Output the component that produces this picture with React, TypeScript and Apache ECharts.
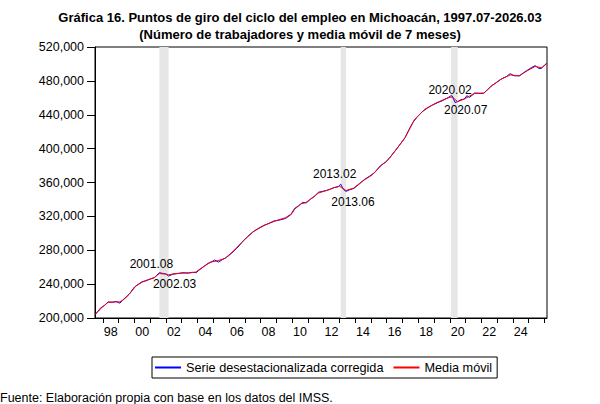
import React, { useEffect, useRef } from "react";
import * as echarts from "echarts";

// Monthly categories 1997-07 .. 2026-03
const startYear = 1997;
const startMonth = 7;
const endYear = 2026;
const endMonth = 3;
const months: string[] = [];
for (let y = startYear; y <= endYear; y++) {
  const m0 = y === startYear ? startMonth : 1;
  const m1 = y === endYear ? endMonth : 12;
  for (let m = m0; m <= m1; m++) months.push(`${y}-${String(m).padStart(2, "0")}`);
}

const yTicks = [200000, 240000, 280000, 320000, 360000, 400000, 440000, 480000, 520000];

// Serie desestacionalizada corregida
const serieDates = [
  "1997-07","1997-09","1997-11","1998-02","1998-05","1998-08","1998-11","1999-02","1999-04","1999-07",
  "1999-10","2000-01","2000-04","2000-07","2000-10","2001-01","2001-04","2001-06","2001-08","2001-11",
  "2002-01","2002-03","2002-06","2002-10","2003-02","2003-06","2003-09","2003-12","2004-03","2004-06",
  "2004-09","2004-12","2005-02","2005-05","2005-08","2005-11","2006-03","2006-07","2006-11","2007-03",
  "2007-07","2007-11","2008-03","2008-07","2008-11","2009-03","2009-08","2009-12","2010-03","2010-06",
  "2010-09","2010-12","2011-03","2011-06","2011-09","2011-12","2012-03","2012-06","2012-09","2012-12",
  "2013-02","2013-04","2013-06","2013-09","2013-12","2014-04","2014-08","2014-12","2015-04","2015-08",
  "2015-12","2016-03","2016-07","2016-11","2017-03","2017-06","2017-09","2017-12","2018-04","2018-08",
  "2018-12","2019-04","2019-08","2019-12","2020-02","2020-03","2020-05","2020-07","2020-09","2020-12",
  "2021-02","2021-04","2021-08","2021-12","2022-03","2022-06","2022-09","2022-12","2023-04","2023-08",
  "2023-11","2024-02","2024-06","2024-09","2024-12","2025-03","2025-06","2025-09","2025-11","2026-01",
  "2026-03"
];
const serieValues = [
  204000,207500,211500,214500,219000,218500,219500,217500,221000,225000,
  230000,236500,240000,243000,244000,246000,247500,250500,253500,252500,
  252000,249500,251500,252500,253500,253000,254000,253500,257500,261000,
  264500,266500,268500,266000,269000,271500,276500,282500,289500,296000,
  301500,305500,309000,311500,314500,315500,317500,322000,329500,332500,
  336500,336000,340500,343500,348500,349500,350500,352000,354000,355000,
  358000,352000,349500,351500,353000,358000,363500,367500,372000,379500,
  384000,388500,396500,404500,413000,422500,431000,437000,443500,448000,
  451500,454500,457000,460500,462500,462000,454500,455500,457500,458500,
  462500,460500,465500,465000,465500,470000,474500,477500,482000,485000,
  488500,486000,486000,489500,492500,495500,498000,494500,495000,498500,
  501000
];

// Media móvil
const mediaDates = [
  "1997-07","1997-10","1998-01","1998-05","1998-09","1999-02","1999-05","1999-09","2000-02","2000-06",
  "2000-10","2001-04","2001-08","2001-12","2002-03","2002-08","2003-02","2003-09","2003-12","2004-03",
  "2004-07","2004-11","2005-04","2005-10","2006-05","2006-12","2007-04","2007-08","2008-04","2008-12",
  "2009-08","2010-01","2010-03","2010-08","2010-11","2011-02","2011-09","2012-04","2012-09","2013-01",
  "2013-03","2013-06","2013-12","2014-06","2015-02","2015-09","2016-01","2016-07","2017-03","2017-07",
  "2017-10","2018-06","2019-02","2019-10","2020-02","2020-04","2020-07","2020-12","2021-04","2021-08",
  "2022-03","2022-08","2023-04","2023-11","2024-06","2024-12","2025-06","2025-11","2026-03"
];
const mediaValues = [
  204000,209000,213500,218500,219000,219000,222000,228000,237500,241500,
  244500,247500,252500,252000,251000,252500,253000,253500,254500,258000,
  262000,266000,267500,270500,280000,291500,297000,302500,309500,314500,
  318500,323500,328500,335000,336000,339000,347500,351000,354000,355500,
  354000,350500,353500,361000,369000,380500,385000,396500,413000,425000,
  434000,446500,453500,459000,461000,459500,455500,458500,462000,465500,
  465500,473000,482000,487000,486000,492000,497000,495500,500500
];

// Turning points and shaded recession bands
const turningDates = ["2001-08", "2002-03", "2013-02", "2013-06", "2020-02", "2020-07"];
const turningValues = [252500, 251000, 355500, 350500, 461000, 455500];
const turningLabels = ["2001.08", "2002.03", "2013.02", "2013.06", "2020.02", "2020.07"];
const turningOffsets = [[-8, -10], [6, 9], [-6, -12], [7, 11], [-1, -7], [8, 8]];
const bandStarts = ["2001-08", "2013-02", "2020-02"];
const bandEnds = ["2002-03", "2013-06", "2020-07"];

const FONT = "'Liberation Sans', Arial, sans-serif";

export default function App() {
  const ref = useRef<HTMLDivElement>(null);
  useEffect(() => {
    document.body.style.margin = "0";
    const chart = echarts.init(ref.current!, null, { renderer: "svg" });
    const option = {
      animation: false,
      backgroundColor: "#ffffff",
      textStyle: { fontFamily: FONT },
      title: {
        text: "Gráfica 16. Puntos de giro del ciclo del empleo en Michoacán, 1997.07-2026.03\n(Número de trabajadores y media móvil de 7 meses)",
        left: "center",
        top: 4,
        textStyle: { fontFamily: FONT, fontSize: 13, fontWeight: "bold", color: "#000", lineHeight: 17 },
      },
      grid: {
        left: 95,
        right: 53,
        top: 47,
        bottom: 86,
        show: true,
        borderColor: "#000",
        borderWidth: 1,
        backgroundColor: "transparent",
      },
      legend: {
        data: ["Serie desestacionalizada corregida", "Media móvil"],
        left: 152,
        top: 357,
        padding: [4, 5, 4, 3],
        itemGap: 10,
        itemWidth: 26,
        itemHeight: 2,
        icon: "rect",
        borderColor: "#000",
        borderWidth: 1,
        borderRadius: 0,
        textStyle: { fontFamily: FONT, fontSize: 12.7, color: "#000" },
      },
      xAxis: {
        type: "category",
        data: months,
        boundaryGap: false,
        axisLine: { lineStyle: { color: "#000", width: 1 } },
        axisTick: {
          show: true,
          length: 5,
          lineStyle: { color: "#000" },
          interval: (i: number, v: string) => v.endsWith("-01"),
        },
        axisLabel: {
          interval: (i: number, v: string) => v.endsWith("-07") && parseInt(v.slice(0, 4)) % 2 === 0,
          formatter: (v: string) => v.slice(2, 4),
          color: "#000",
          fontSize: 12.5,
          fontFamily: FONT,
          margin: 7,
        },
        splitLine: { show: false },
      },
      yAxis: {
        type: "value",
        min: yTicks[0],
        max: yTicks[yTicks.length - 1],
        interval: yTicks[1] - yTicks[0],
        axisLine: { show: true, lineStyle: { color: "#000", width: 1 } },
        axisTick: { show: true, length: 8, lineStyle: { color: "#000" } },
        axisLabel: {
          formatter: (v: number) => v.toLocaleString("en-US"),
          color: "#000",
          fontSize: 12.5,
          fontFamily: FONT,
          margin: 11,
        },
        splitLine: { show: false },
      },
      series: [
        {
          name: "Serie desestacionalizada corregida",
          type: "line",
          data: serieDates.map((d, i) => [d, serieValues[i]]),
          showSymbol: false,
          symbol: "none",
          lineStyle: { color: "#0000ff", width: 1 },
          itemStyle: { color: "#0000ff" },
          markArea: {
            silent: true,
            itemStyle: { color: "#e6e6e6" },
            data: bandStarts.map((s, i) => [{ xAxis: s }, { xAxis: bandEnds[i] }]),
          },
          z: 2,
        },
        {
          name: "Media móvil",
          type: "line",
          data: mediaDates.map((d, i) => [d, mediaValues[i]]),
          showSymbol: false,
          symbol: "none",
          lineStyle: { color: "#ff0000", width: 1 },
          itemStyle: { color: "#ff0000" },
          markPoint: {
            silent: true,
            symbol: "circle",
            symbolSize: 1,
            itemStyle: { color: "rgba(0,0,0,0)" },
            label: {
              show: true,
              position: "inside",
              color: "#000",
              fontSize: 12,
              fontFamily: FONT,
            },
            data: turningDates.map((d, i) => ({
              coord: [d, turningValues[i]],
              label: { formatter: turningLabels[i], offset: turningOffsets[i] },
            })),
          },
          z: 3,
        },
      ],
      graphic: [
        {
          type: "text",
          left: 0,
          top: 391,
          style: {
            text: "Fuente: Elaboración propia con base en los datos del IMSS.",
            fontFamily: FONT,
            fontSize: 12.5,
            fill: "#000",
          },
        },
      ],
    };
    chart.setOption(option as any);
    return () => chart.dispose();
  }, []);
  return (
    <div
      ref={ref}
      style={{ position: "fixed", left: 0, top: 0, width: 600, height: 404 }}
    />
  );
}
